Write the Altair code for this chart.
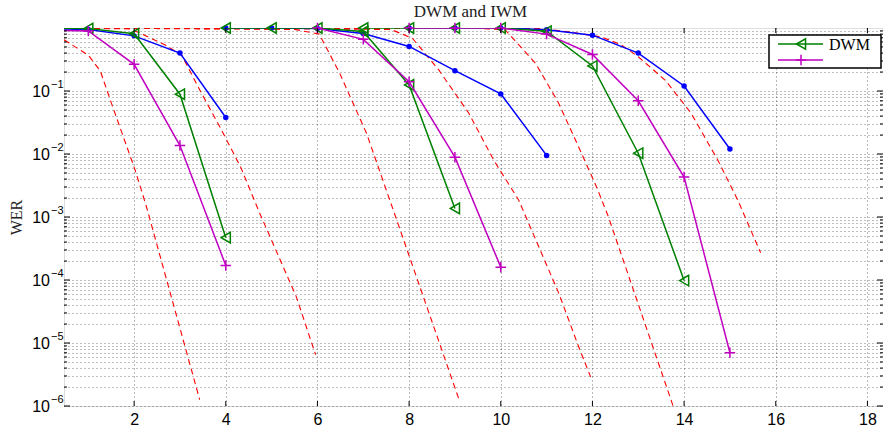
import altair as alt
import pandas as pd

# ---------------- data (SNR on x, WER on y) ----------------
# green, triangle markers (DWM)
dwm1_snr = [0, 1, 2, 3, 4]
dwm1_wer = [1.0, 0.98, 0.81, 0.089, 4.7e-4]
dwm2_snr = [4, 5, 6, 7, 8, 9]
dwm2_wer = [1.0, 1.0, 1.0, 0.88, 0.125, 1.37e-3]
dwm3_snr = [7, 8, 9, 10, 11, 12, 13, 14]
dwm3_wer = [1.0, 1.0, 1.0, 1.0, 0.89, 0.25, 0.0103, 9.8e-5]

# magenta, plus markers
iwm1_snr = [0, 1, 2, 3, 4]
iwm1_wer = [0.93, 0.9, 0.265, 0.0136, 1.7e-4]
iwm2_snr = [6, 7, 8, 9, 10]
iwm2_wer = [1.0, 0.66, 0.14, 8.9e-3, 1.6e-4]
iwm3_snr = [8, 9, 10, 11, 12, 13, 14, 15]
iwm3_wer = [1.0, 1.0, 1.0, 0.80, 0.38, 0.070, 4.3e-3, 7.0e-6]

# blue, dot markers
ref1_snr = [0, 1, 2, 3, 4]
ref1_wer = [0.97, 0.95, 0.75, 0.40, 0.038]
ref2_snr = [4, 5, 6, 7, 8, 9, 10, 11]
ref2_wer = [1.0, 1.0, 0.98, 0.82, 0.51, 0.21, 0.09, 0.0095]
ref3_snr = [8, 9, 10, 11, 12, 13, 14, 15]
ref3_wer = [1.0, 1.0, 1.0, 0.94, 0.77, 0.40, 0.12, 0.012]

# red dashed curves
bnd1_snr = [0.47, 1.0, 1.26, 1.48, 2.02, 2.27, 3.43]
bnd1_wer = [0.65, 0.37, 0.21, 0.072, 5.6e-3, 1.45e-3, 1.26e-6]
bnd2_snr = [0.47, 1.9, 2.13, 2.67, 3.04, 3.45, 3.87, 4.32, 4.74, 5.54, 5.96]
bnd2_wer = [1.0, 0.97, 0.83, 0.54, 0.37, 0.098, 0.027, 6.3e-3, 1.15e-3, 5.4e-5, 6.5e-6]
bnd3_snr = [0.47, 5.5, 6.04, 6.48, 7.07, 7.63, 9.09]
bnd3_wer = [1.0, 0.95, 0.8, 0.195, 0.0214, 1.45e-3, 1.26e-6]
bnd4_snr = [0.47, 7.6, 8.07, 8.65, 9.30, 9.85, 10.39, 11.26, 11.7, 11.96]
bnd4_wer = [1.0, 0.95, 0.69, 0.214, 0.0447, 7.9e-3, 1.86e-3, 6.3e-5, 8.7e-6, 2.9e-6]
bnd5_snr = [0.47, 9.6, 10.1, 10.76, 11.26, 11.7, 12.09, 12.35, 13.76]
bnd5_wer = [1.0, 0.98, 0.93, 0.275, 0.0646, 0.0129, 3.0e-3, 1.0e-3, 1.0e-6]
bnd6_snr = [0.47, 10.9, 11.48, 12.2, 12.63, 13.0, 13.59, 14.15, 14.74, 15.17, 15.67]
bnd6_wer = [1.0, 0.98, 0.87, 0.72, 0.54, 0.35, 0.148, 0.0447, 7.9e-3, 1.86e-3, 2.7e-4]

x_ticks = [2, 4, 6, 8, 10, 12, 14, 16, 18]
y_exps = [-1, -2, -3, -4, -5, -6]
y_exp_labels = ["\u22121", "\u22122", "\u22123", "\u22124", "\u22125", "\u22126"]
y_minor_mult = [2, 3, 4, 5, 6, 7, 8, 9]
title_text = ["DWM and IWM"]
legend_labels = ["DWM", ""]

# ---------------- tables ----------------
series = [
    ("dwm", "dwm1", dwm1_snr, dwm1_wer), ("dwm", "dwm2", dwm2_snr, dwm2_wer), ("dwm", "dwm3", dwm3_snr, dwm3_wer),
    ("iwm", "iwm1", iwm1_snr, iwm1_wer), ("iwm", "iwm2", iwm2_snr, iwm2_wer), ("iwm", "iwm3", iwm3_snr, iwm3_wer),
    ("ref", "ref1", ref1_snr, ref1_wer), ("ref", "ref2", ref2_snr, ref2_wer), ("ref", "ref3", ref3_snr, ref3_wer),
    ("bnd", "bnd1", bnd1_snr, bnd1_wer), ("bnd", "bnd2", bnd2_snr, bnd2_wer), ("bnd", "bnd3", bnd3_snr, bnd3_wer),
    ("bnd", "bnd4", bnd4_snr, bnd4_wer), ("bnd", "bnd5", bnd5_snr, bnd5_wer), ("bnd", "bnd6", bnd6_snr, bnd6_wer),
]
rows = []
for kind, name, xs_, ys_ in series:
    for i, (a, b) in enumerate(zip(xs_, ys_)):
        rows.append({"kind": kind, "curve": name, "i": i, "snr": a, "wer": b})
df = pd.DataFrame(rows)

major_vals = [10.0 ** e for e in y_exps]
minor_vals = [m * 10.0 ** e for e in range(-6, 0) for m in y_minor_mult]
grid_vals = sorted(major_vals + minor_vals)
ymajor = pd.DataFrame({"wer": major_vals, "exp": y_exp_labels, "base": ["10"] * len(y_exps)})
yminor = pd.DataFrame({"wer": minor_vals})
xtk = pd.DataFrame({"snr": x_ticks})

W, H = 819, 378
XS = alt.Scale(domain=[0.47, 18.34], nice=False, zero=False)
YS = alt.Scale(type="log", domain=[1e-6, 1], nice=False)

x_axis = alt.Axis(values=x_ticks, grid=True, gridDash=[1, 3], gridColor="#000", gridOpacity=0.55,
                  ticks=False, domain=False, labelFont="Liberation Sans", labelFontSize=16,
                  labelColor="#000", labelPadding=5, title=None)
y_axis = alt.Axis(values=grid_vals, grid=True, gridDash=[1, 3], gridColor="#000", gridOpacity=0.5,
                  ticks=False, domain=False, labels=False, title="WER", titleFont="Liberation Serif",
                  titleFontSize=16, titleFontWeight="normal", titleColor="#222", titlePadding=40)

X = alt.X("snr:Q", scale=XS, axis=x_axis)
Y = alt.Y("wer:Q", scale=YS, axis=y_axis)

base = alt.Chart(df)

def lines(kind, color, width=1.5, dash=None):
    kw = dict(color=color, strokeWidth=width, clip=True)
    if dash:
        kw["strokeDash"] = dash
    return base.transform_filter(alt.datum.kind == kind).mark_line(**kw).encode(
        x=X, y=Y, detail="curve:N", order="i:Q")

def points(kind, **kw):
    return base.transform_filter((alt.datum.kind == kind) & (alt.datum.snr >= 0.47)).mark_point(
        clip=False, **kw).encode(x=X, y=Y)

plus_path = "M-1,0H1M0,-1V1"

layers = [
    lines("bnd", "#ff0000", 1.1, [6, 4]),
    lines("ref", "#0000ff"),
    points("ref", shape="circle", filled=True, color="#0000ff", size=30, opacity=1),
    lines("dwm", "#008000"),
    points("dwm", shape="triangle-left", filled=False, color="#008000", size=110, strokeWidth=1.5, opacity=1),
    lines("iwm", "#c000c0"),
    points("iwm", shape=plus_path, filled=False, color="#c000c0", size=110, strokeWidth=1.5, opacity=1),
]

# inward tick marks
xt = alt.Chart(xtk)
layers += [
    xt.mark_rule(color="#000", strokeWidth=1).encode(x=X, y=alt.value(H), y2=alt.value(H - 5)),
    xt.mark_rule(color="#000", strokeWidth=1).encode(x=X, y=alt.value(0), y2=alt.value(5)),
]
ym = alt.Chart(ymajor)
yn = alt.Chart(yminor)
layers += [
    ym.mark_rule(color="#000", strokeWidth=1).encode(y=Y, x=alt.value(0), x2=alt.value(6)),
    ym.mark_rule(color="#000", strokeWidth=1).encode(y=Y, x=alt.value(W), x2=alt.value(W - 6)),
    yn.mark_rule(color="#000", strokeWidth=1).encode(y=Y, x=alt.value(0), x2=alt.value(3)),
    yn.mark_rule(color="#000", strokeWidth=1).encode(y=Y, x=alt.value(W), x2=alt.value(W - 3)),
]
# y tick labels 10^-k
layers += [
    ym.mark_text(align="right", baseline="middle", font="Liberation Sans", fontSize=16, color="#000", dy=1).encode(
        y=Y, x=alt.value(-14), text="base:N"),
    ym.mark_text(align="left", baseline="middle", font="Liberation Sans", fontSize=11, color="#000", dy=-6).encode(
        y=Y, x=alt.value(-13), text="exp:N"),
]

# title as text
tt = alt.Chart(pd.DataFrame({"t": title_text}))
layers.append(tt.mark_text(align="center", baseline="middle", font="Liberation Serif", fontSize=17,
                           color="#222").encode(x=alt.value(W / 2 - 3), y=alt.value(-16), text="t:N"))

# legend box
one = alt.Chart(pd.DataFrame({"lbl": [legend_labels[0]]}))
lx0, lx1, ly0, ly1 = 705, 817, 7, 40
layers += [
    one.mark_rect(fill="white", stroke="#000", strokeWidth=1.5).encode(
        x=alt.value(lx0), x2=alt.value(lx1), y=alt.value(ly0), y2=alt.value(ly1)),
    one.mark_rule(color="#008000", strokeWidth=1.5).encode(x=alt.value(714), x2=alt.value(759), y=alt.value(16)),
    one.mark_point(shape="triangle-left", filled=False, color="#008000", size=110, strokeWidth=1.5, opacity=1).encode(
        x=alt.value(737), y=alt.value(16)),
    one.mark_rule(color="#c000c0", strokeWidth=1.5).encode(x=alt.value(714), x2=alt.value(759), y=alt.value(32)),
    one.mark_point(shape=plus_path, filled=False, color="#c000c0", size=110, strokeWidth=1.5, opacity=1).encode(
        x=alt.value(737), y=alt.value(32)),
    one.mark_text(align="left", baseline="middle", font="Liberation Serif", fontSize=16, color="#000").encode(
        x=alt.value(765), y=alt.value(17), text="lbl:N"),
]

chart = alt.layer(*layers).properties(
    width=W, height=H,
    padding={"left": 64, "top": 28, "right": 0, "bottom": 26},
    autosize=alt.AutoSizeParams(type="none"),
).configure_view(stroke="#111", strokeWidth=1.5).configure(background="white")

chart.save("out.html", embed_options={"renderer": "svg", "actions": False})
